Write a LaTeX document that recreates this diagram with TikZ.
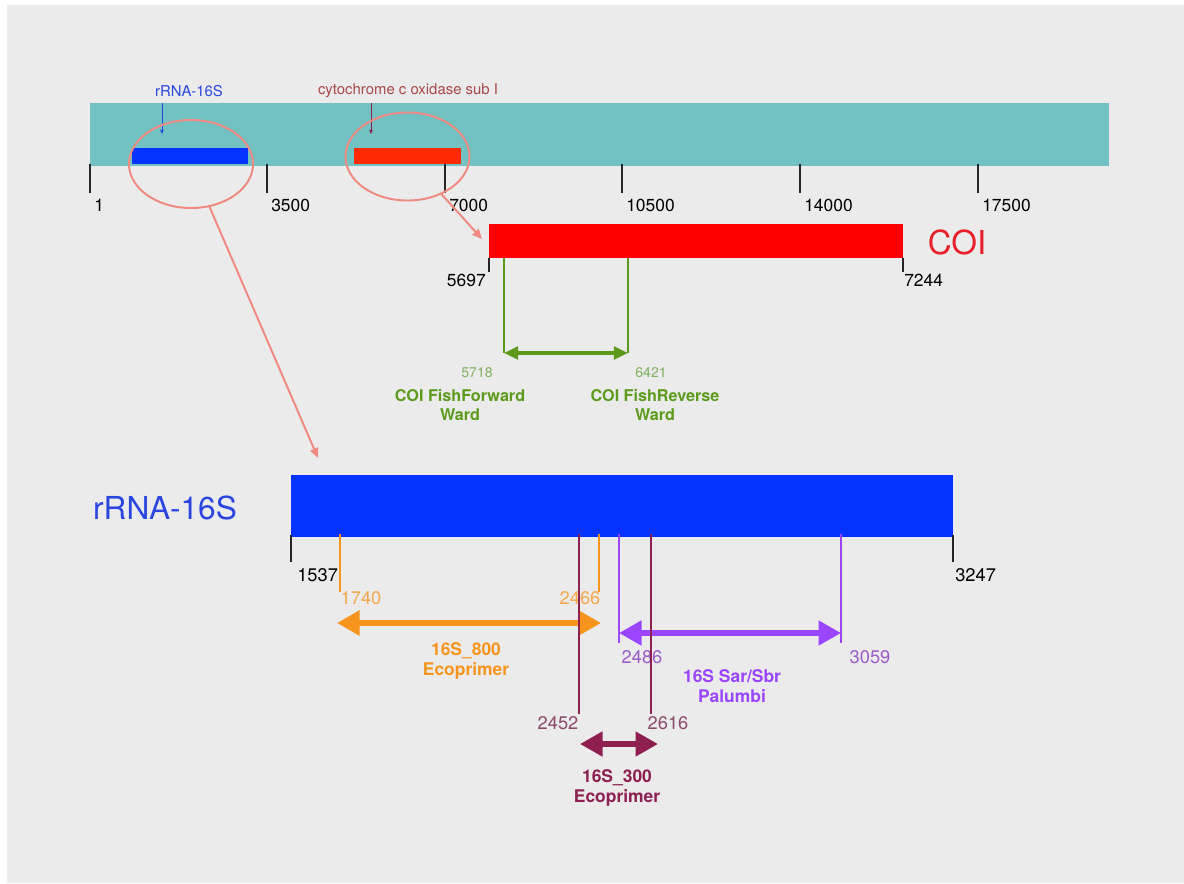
\documentclass[tikz,border=0pt]{standalone}
\usepackage{fontspec}
\setmainfont{TeX Gyre Heros}
\usetikzlibrary{arrows.meta,shapes.geometric}

\definecolor{bggrey}{HTML}{EBEBEB}
\definecolor{genometeal}{HTML}{72C2C4}
\definecolor{genblue}{HTML}{0433FF}
\definecolor{genred}{HTML}{FF2A00}
\definecolor{coired}{HTML}{FF0000}
\definecolor{coitext}{HTML}{E8202A}
\definecolor{bluetext}{HTML}{2A45E0}
\definecolor{cytotext}{HTML}{A8484A}
\definecolor{ringpink}{HTML}{F08A80}
\definecolor{fishgreen}{HTML}{5B9A1B}
\definecolor{fishnum}{HTML}{80B060}
\definecolor{ecoorange}{HTML}{F7941D}
\definecolor{orangenum}{HTML}{F4A84A}
\definecolor{ecomaroon}{HTML}{8E1F50}
\definecolor{maroonnum}{HTML}{8C4A6A}
\definecolor{palpurple}{HTML}{9B45FF}
\definecolor{purplenum}{HTML}{9A5CC8}

\tikzset{
  tickmark/.style={line width=1.4pt, black!85},
  ticklabel/.style={font=\fontsize{12.4}{14}\selectfont, anchor=west, inner sep=0pt},
  smalllabel/.style={font=\fontsize{10.6}{12}\selectfont, inner sep=0pt},
  biglabel/.style={font=\fontsize{22.5}{25}\selectfont, inner sep=0pt},
  posnum/.style={font=\fontsize{13}{15}\selectfont, inner sep=0pt},
  primername/.style={font=\bfseries\fontsize{12.4}{14}\selectfont, align=center, inner sep=0pt},
  zoomring/.style={draw=ringpink, line width=1.4pt, ellipse, inner sep=0pt,
    minimum width=3.1cm, minimum height=2.2cm},
  zoomarrow/.style={draw=ringpink, line width=1.4pt, -{Triangle[length=7pt,width=6pt]}},
  pointer/.style={line width=0.6pt, -{Triangle[length=3pt,width=2.5pt]}},
  primerline/.style={line width=1.4pt},
  primerarrow/.style={line width=4.4pt, {Triangle[length=16pt,width=17pt]}-{Triangle[length=16pt,width=17pt]}},
}

\begin{document}
\begin{tikzpicture}[x=0.025cm,y=-0.025cm]
\useasboundingbox (0,0) rectangle (1184,883);
\fill[bggrey] (7,5) rectangle (1184,883);

% whole mitogenome
\fill[genometeal] (90,103) rectangle (1109,166);
\fill[genblue] (132,148) rectangle (248,164);
\fill[genred] (354,148) rectangle (461,164);
\foreach \x/\lab in {90/1,267/3500,445/7000,622/10500,800/14000,978/17500}{
  \draw[tickmark] (\x,164) -- (\x,193);
  \node[ticklabel] at (\x+4,205) {\lab};
}

\node[smalllabel, text=bluetext] (lab16s) at (189,91) {rRNA-16S};
\coordinate (lab16stop) at (162,103);
\coordinate (lab16sbot) at (162,134);
\draw[pointer, bluetext] (lab16stop) -- (lab16sbot);

\node[smalllabel, text=cytotext] (labcoi) at (408,91) {cytochrome c oxidase sub I};
\coordinate (labcoitop) at (371,103);
\coordinate (labcoibot) at (371,134);
\draw[pointer, ecomaroon] (labcoitop) -- (labcoibot);

\node[zoomring] (ring16s) at (191,164) {};
\node[zoomring] (ringcoi) at (407.5,156.5) {};

% COI
\fill[coired] (489,224) rectangle (903,258);
\node[biglabel, font=\fontsize{23.5}{26}\selectfont, text=coitext] (coiname) at (957,242) {COI};
\draw[tickmark] (489,258) -- (489,272);
\draw[tickmark] (903,258) -- (903,272);
\node[ticklabel, anchor=east] at (486,280) {5697};
\node[ticklabel] at (904,280) {7244};
\coordinate (coitip) at (482,239);
\draw[zoomarrow] (ringcoi) -- (coitip);

\coordinate (ffwdtop) at (504,258);
\coordinate (ffwd) at (504,353);
\coordinate (frevtop) at (628,258);
\coordinate (frev) at (628,353);
\draw[primerline, fishgreen] (ffwdtop) -- (ffwd);
\draw[primerline, fishgreen] (frevtop) -- (frev);
\draw[fishgreen, line width=2.2pt, {Triangle[length=10pt,width=9pt]}-{Triangle[length=10pt,width=9pt]}] (ffwd) -- (frev);
\node[smalllabel, font=\fontsize{10}{12}\selectfont, text=fishnum] at (477,373) {5718};
\node[smalllabel, font=\fontsize{10}{12}\selectfont, text=fishnum] at (651,373) {6421};
\node[primername, font=\bfseries\fontsize{11.5}{13}\selectfont, text=fishgreen] (fishfwd) at (460,405) {COI FishForward\\Ward};
\node[primername, font=\bfseries\fontsize{11.5}{13}\selectfont, text=fishgreen] (fishrev) at (655,405) {COI FishReverse\\Ward};

% rRNA-16S
\fill[genblue] (291,475) rectangle (953,537);
\node[biglabel, text=bluetext] (name16s) at (165,508) {rRNA-16S};
\draw[tickmark] (291,535) -- (291,562);
\draw[tickmark] (953,535) -- (953,562);
\node[ticklabel, font=\fontsize{13}{15}\selectfont] at (297,575) {1537};
\node[ticklabel, font=\fontsize{13}{15}\selectfont] at (955,575) {3247};
\coordinate (bigtip) at (318,458);
\draw[zoomarrow] (ring16s) -- (bigtip);

% 16S_800
\coordinate (e800a) at (340,592);
\coordinate (e800b) at (599,592);
\draw[primerline, ecoorange] (340,534) -- (e800a);
\draw[primerline, ecoorange] (599,534) -- (e800b);
\node[posnum, text=orangenum] at (361,598) {1740};
\node[posnum, text=orangenum] at (580,598) {2466};
\coordinate (e800l) at (337,623);
\coordinate (e800r) at (601,623);
\draw[primerarrow, ecoorange] (e800l) -- (e800r);
\node[primername, text=ecoorange] (eco800) at (466,661) {16S\_800\\Ecoprimer};

% Sar/Sbr
\coordinate (palA) at (619,643);
\coordinate (palB) at (841,643);
\draw[primerline, palpurple] (619,534) -- (palA);
\draw[primerline, palpurple] (841,534) -- (palB);
\node[posnum, text=purplenum] at (642,657) {2486};
\node[posnum, text=purplenum] at (870,657) {3059};
\coordinate (pall) at (619,633);
\coordinate (palr) at (841,633);
\draw[primerarrow, palpurple, line width=3.6pt] (pall) -- (palr);
\node[primername, text=palpurple] (palumbi) at (732,686) {16S Sar/Sbr\\Palumbi};

% 16S_300
\coordinate (e300a) at (579,714);
\coordinate (e300b) at (651,714);
\draw[primerline, ecomaroon] (579,534) -- (e300a);
\draw[primerline, ecomaroon] (651,534) -- (e300b);
\node[posnum, text=maroonnum] at (558,723) {2452};
\node[posnum, text=maroonnum] at (668,723) {2616};
\coordinate (e300l) at (580,744);
\coordinate (e300r) at (658,744);
\draw[primerarrow, ecomaroon, line width=3.6pt] (e300l) -- (e300r);
\node[primername, text=ecomaroon] (eco300) at (617,788) {16S\_300\\Ecoprimer};

\end{tikzpicture}
\end{document}
